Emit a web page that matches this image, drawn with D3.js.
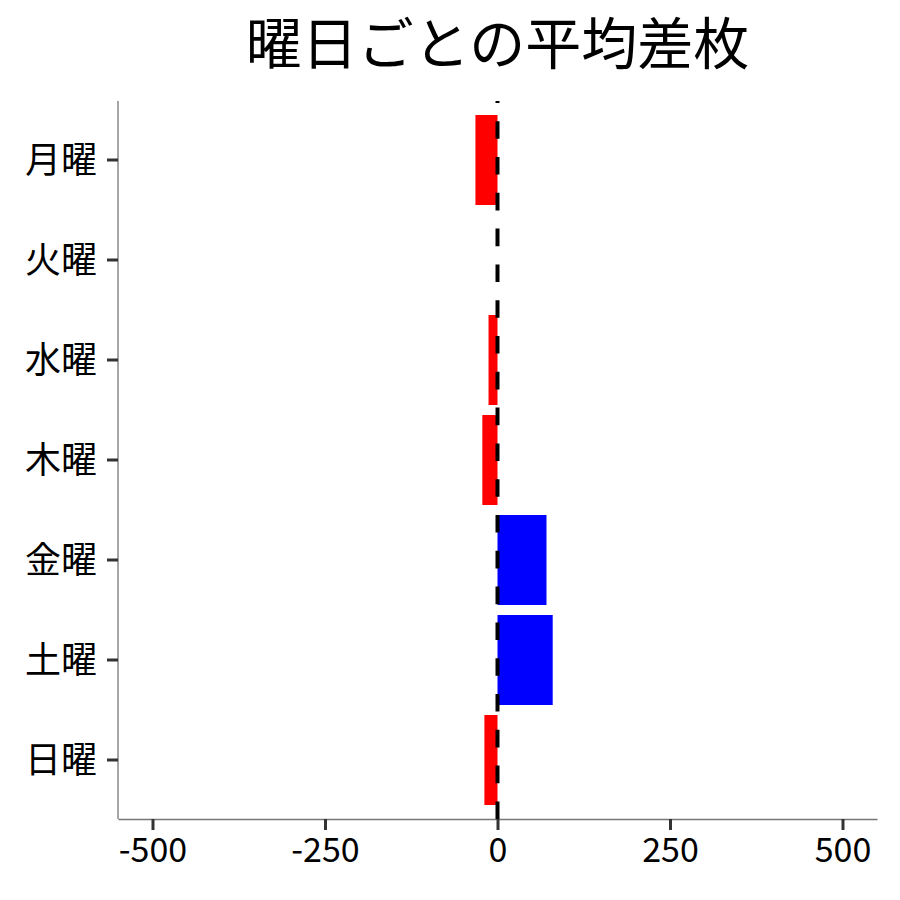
<!DOCTYPE html>
<html>
<head>
<meta charset="utf-8">
<script src="https://cdn.jsdelivr.net/npm/d3@7"></script>
<style>
  body { margin: 0; background: #fff; }
  svg { font-family: "Noto Sans CJK JP", "Noto Sans", sans-serif; }
</style>
</head>
<body>
<svg id="chart" width="900" height="900"></svg>
<script>
// Weekday labels and mean differences
const days = ["月曜", "火曜", "水曜", "木曜", "金曜", "土曜", "日曜"];
const meanDiff = [-32, 0, -13, -22, 71, 80, -19];
const xTicks = [-500, -250, 0, 250, 500];
const title = "曜日ごとの平均差枚";

const svg = d3.select("#chart");
const plotLeft = 118, plotRight = 877, plotTop = 101, plotBottom = 819;

const x = d3.scaleLinear().domain([-550, 550]).range([plotLeft, plotRight]);
const y = d3.scaleBand().domain(days)
    .range([plotTop + 9, plotBottom - 9])
    .paddingInner(0.1)
    .paddingOuter(0.05);

const data = days.map((d, i) => ({ day: d, value: meanDiff[i] }));

// Bars
svg.append("g").selectAll("rect")
    .data(data)
    .enter()
    .append("rect")
    .attr("x", d => x(Math.min(0, d.value)))
    .attr("y", d => y(d.day))
    .attr("width", d => Math.abs(x(d.value) - x(0)))
    .attr("height", y.bandwidth())
    .attr("fill", d => d.value >= 0 ? "#0000ff" : "#ff0000");

// Bottom axis (plain hyphen for negatives)
const xAxis = svg.append("g")
    .attr("transform", `translate(0,${plotBottom})`)
    .call(d3.axisBottom(x).tickValues(xTicks).tickFormat(d => String(d))
        .tickSize(11).tickPadding(8).tickSizeOuter(0));
xAxis.select(".domain").attr("stroke", "#777").attr("stroke-width", 1.3);
xAxis.selectAll(".tick line").attr("stroke", "#333").attr("stroke-width", 3);
xAxis.selectAll(".tick text")
    .style("font-size", "34px")
    .style("font-family", "Noto Sans CJK JP")
    .attr("fill", "#000");

// Left axis
const yAxis = svg.append("g")
    .attr("transform", `translate(${plotLeft},0)`)
    .call(d3.axisLeft(y).tickSize(11).tickPadding(10).tickSizeOuter(0));
yAxis.select(".domain")
    .attr("d", `M0,${plotTop}V${plotBottom}`)
    .attr("stroke", "#777").attr("stroke-width", 1.3);
yAxis.selectAll(".tick line").attr("stroke", "#333").attr("stroke-width", 3);
yAxis.selectAll(".tick text")
    .style("font-size", "36px")
    .style("font-family", "Noto Sans CJK JP")
    .attr("fill", "#000")
    .attr("dy", "0.36em");

// Zero reference line (dashed), drawn from the bottom up
svg.append("line")
    .attr("x1", x(0)).attr("x2", x(0))
    .attr("y1", plotBottom).attr("y2", plotTop)
    .attr("stroke", "#000")
    .attr("stroke-width", 4)
    .attr("stroke-dasharray", "17.6 18.2");

// Title
svg.append("text")
    .attr("x", (plotLeft + plotRight) / 2)
    .attr("y", 64)
    .attr("text-anchor", "middle")
    .style("font-size", "56px")
    .attr("fill", "#000")
    .text(title);
</script>
</body>
</html>
